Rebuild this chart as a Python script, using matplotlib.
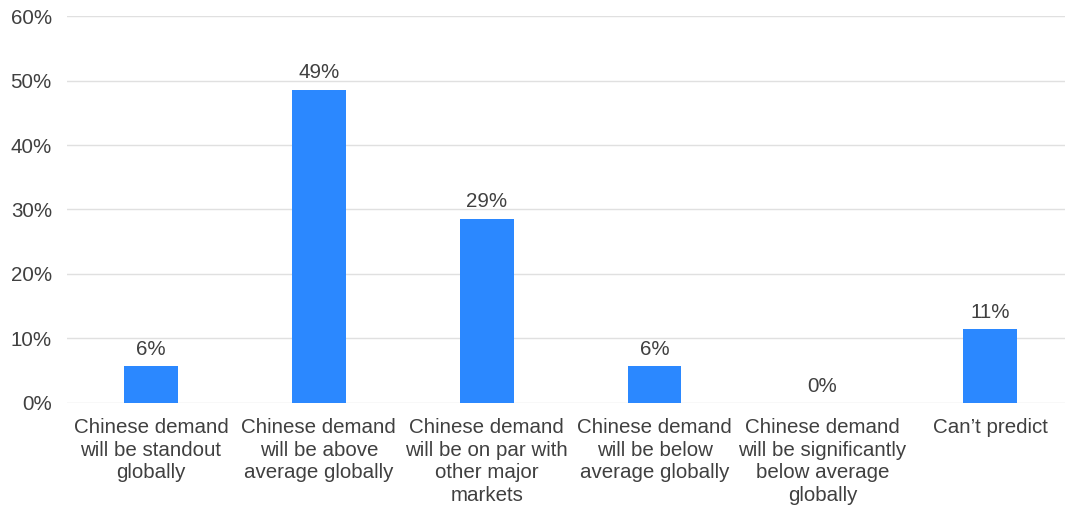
import matplotlib
matplotlib.use("Agg")
import matplotlib.pyplot as plt

# survey responses (share of respondents, %)
categories = [
    "Chinese demand\nwill be standout\nglobally",
    "Chinese demand\nwill be above\naverage globally",
    "Chinese demand\nwill be on par with\nother major\nmarkets",
    "Chinese demand\nwill be below\naverage globally",
    "Chinese demand\nwill be significantly\nbelow average\nglobally",
    "Can\u2019t predict",
]
shares = [5.7, 48.6, 28.6, 5.7, 0.0, 11.4]
y_ticks = [0, 10, 20, 30, 40, 50, 60]

text_col = "#404040"
fs = 14.8
plt.rcParams["font.family"] = ["Liberation Sans", "DejaVu Sans"]

fig = plt.figure(figsize=(10.65, 5.08), dpi=100)
ax = fig.add_axes([0.063, 0.2067, 0.9455, 0.7618])

x = range(len(categories))
bars = ax.bar(x, shares, width=0.32, color="#2B88FF", zorder=3)
for b, v in zip(bars, shares):
    ax.text(b.get_x() + b.get_width() / 2, v + 1.1, f"{v:.0f}%",
            ha="center", va="bottom", fontsize=fs, color=text_col)

ax.set_xlim(-0.5, len(categories) - 0.5)
ax.set_ylim(0, 60)
ax.set_yticks(y_ticks)
ax.set_yticklabels([f"{t}%" for t in y_ticks])
ax.set_xticks(list(x))
ax.set_xticklabels(categories, linespacing=1.24)
ax.tick_params(axis="both", length=0, labelsize=fs, labelcolor=text_col)
ax.tick_params(axis="x", pad=11)
ax.tick_params(axis="y", pad=11)
ax.yaxis.grid(True, color="#e0e0e0", lw=1.0, zorder=0)
for s in ax.spines.values():
    s.set_visible(False)

plt.savefig("out.png", dpi=100)
